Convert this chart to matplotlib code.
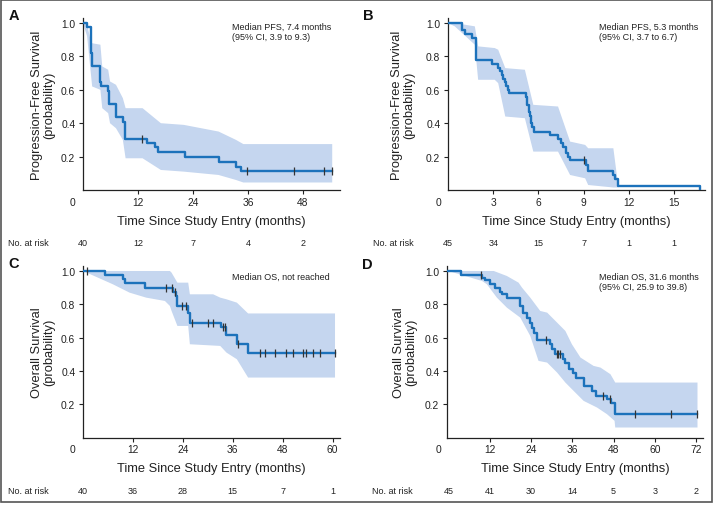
import numpy as np
import matplotlib
matplotlib.use("Agg")
import matplotlib.pyplot as plt
from matplotlib import transforms
from matplotlib.patches import Rectangle

plt.rcParams['font.family'] = ['Liberation Sans', 'DejaVu Sans']

# ---- panel A : PFS, cohort 1 ----
a_time = [0, 0.9, 1.8, 2.0, 3.8, 4.0, 5.5, 5.7, 7.2, 8.7, 9.1, 13.9, 15.7, 16.4, 22.3, 29.6, 33.4, 34.5, 54.4]
a_surv = [1.0, 0.975, 0.82, 0.745, 0.645, 0.62, 0.59, 0.515, 0.44, 0.41, 0.305, 0.28, 0.255, 0.228, 0.195, 0.168, 0.14, 0.113, 0.113]
a_cens = [12.9, 35.8, 46.0, 52.7, 54.3]
a_hi_t = [0, 0.9, 1.8, 3.8, 4.2, 5.5, 5.9, 7.2, 8.7, 9.3, 13.0, 17.0, 22.0, 29.6, 33.4, 35.0, 54.4]
a_hi = [1.0, 0.99, 0.88, 0.87, 0.74, 0.72, 0.65, 0.63, 0.55, 0.49, 0.49, 0.40, 0.39, 0.35, 0.30, 0.275, 0.275]
a_lo_t = [0, 0.9, 2.0, 3.8, 4.2, 5.5, 5.9, 7.2, 8.7, 9.3, 13.0, 17.0, 22.0, 29.6, 33.4, 35.0, 54.4]
a_lo = [1.0, 0.92, 0.62, 0.60, 0.49, 0.46, 0.40, 0.37, 0.30, 0.19, 0.19, 0.12, 0.11, 0.09, 0.06, 0.045, 0.045]
a_ticks = [0, 12, 24, 36, 48]
a_risk = [40, 12, 7, 4, 2]

# ---- panel B : PFS, cohort 2 ----
b_time = [0, 0.94, 1.16, 1.56, 1.85, 2.89, 3.33, 3.45, 3.55, 3.65, 3.75, 3.85, 3.95, 4.05,
          5.2, 5.27, 5.37, 5.43, 5.5, 5.59, 5.68, 6.76, 7.3, 7.5, 7.65, 7.8, 7.95, 8.1,
          9.13, 9.3, 10.97, 11.1, 11.3, 16.7]
b_surv = [1.0, 0.956, 0.933, 0.911, 0.778, 0.756, 0.733, 0.711, 0.689, 0.667, 0.644, 0.622, 0.60, 0.578,
          0.556, 0.511, 0.467, 0.444, 0.40, 0.378, 0.350, 0.328, 0.305, 0.283, 0.256, 0.222, 0.20, 0.178,
          0.150, 0.111, 0.089, 0.067, 0.022, 0.0]
b_cens = [9.0]
b_hi_t = [0, 0.45, 1.78, 2.0, 3.1, 3.33, 3.8, 5.1, 5.66, 7.3, 8.1, 9.1, 9.3, 10.97, 11.3]
b_hi = [1.0, 1.0, 0.98, 0.86, 0.85, 0.84, 0.73, 0.72, 0.51, 0.50, 0.29, 0.27, 0.25, 0.25, 0.02]
b_lo_t = [0, 0.45, 1.78, 2.0, 3.1, 3.33, 3.8, 5.1, 5.66, 7.3, 8.1, 9.1, 9.3, 10.97, 11.3]
b_lo = [1.0, 0.98, 0.87, 0.66, 0.66, 0.64, 0.44, 0.43, 0.23, 0.23, 0.09, 0.07, 0.03, 0.015, 0.015]
b_ticks = [0, 3, 6, 9, 12, 15]
b_risk = [45, 34, 15, 7, 1, 1]

# ---- panel C : OS, cohort 1 ----
c_time = [0, 5.4, 9.6, 10.2, 14.8, 21.7, 22.3, 22.7, 25.3, 25.7, 33.3, 34.5, 37.1, 39.7, 60.6]
c_surv = [1.0, 0.975, 0.95, 0.925, 0.90, 0.875, 0.85, 0.79, 0.75, 0.69, 0.664, 0.614, 0.564, 0.51, 0.51]
c_cens = [0.9, 19.9, 21.5, 22.2, 23.9, 24.7, 26.2, 30.1, 31.3, 33.7, 34.1, 37.3,
          42.5, 43.8, 46.1, 48.9, 50.5, 53.0, 53.7, 55.3, 56.9, 60.5]
c_hi_t = [0, 20.9, 21.3, 22.7, 25.3, 25.7, 31.3, 33.0, 34.5, 37.0, 39.7, 60.6]
c_hi = [1.0, 1.0, 0.99, 0.93, 0.93, 0.86, 0.86, 0.84, 0.83, 0.81, 0.745, 0.745]
c_lo_t = [0, 7.2, 11.2, 15.2, 19.7, 20.9, 21.3, 22.7, 25.3, 25.7, 33.0, 34.5, 37.0, 39.7, 60.6]
c_lo = [1.0, 0.92, 0.87, 0.84, 0.82, 0.79, 0.76, 0.67, 0.67, 0.56, 0.55, 0.51, 0.47, 0.36, 0.36]
c_ticks = [0, 12, 24, 36, 48, 60]
c_risk = [40, 36, 28, 15, 7, 1]

# ---- panel D : OS, cohort 2 ----
d_time = [0, 3.7, 9.8, 10.7, 12.2, 13.6, 15.1, 15.6, 17.0, 20.9, 21.7, 22.8, 23.6, 24.3, 24.8, 25.7,
          29.4, 30.1, 31.1, 33.3, 34.0, 35.0, 36.2, 37.2, 39.3, 41.7, 43.0, 46.1, 47.3, 48.5, 72.4]
d_surv = [1.0, 0.978, 0.96, 0.944, 0.92, 0.896, 0.876, 0.86, 0.84, 0.79, 0.75, 0.72, 0.69, 0.66, 0.63, 0.586,
          0.56, 0.53, 0.50, 0.47, 0.445, 0.41, 0.385, 0.355, 0.31, 0.28, 0.25, 0.23, 0.21, 0.144, 0.144]
d_cens = [9.6, 28.5, 31.5, 32.0, 32.5, 44.8, 46.9, 54.1, 64.8, 72.4]
d_hi_t = [0, 13.2, 17.0, 20.4, 21.4, 23.8, 26.7, 28.7, 31.6, 34.0, 35.9, 38.4, 42.2, 44.2, 47.1, 48.5, 72.4]
d_hi = [1.0, 1.0, 0.97, 0.93, 0.90, 0.84, 0.76, 0.75, 0.69, 0.64, 0.56, 0.48, 0.43, 0.42, 0.38, 0.33, 0.33]
d_lo_t = [0, 9.8, 11.2, 14.1, 17.0, 20.9, 23.8, 26.2, 28.7, 31.6, 34.0, 36.4, 39.3, 43.2, 46.1, 48.3, 48.5, 72.4]
d_lo = [1.0, 0.94, 0.92, 0.84, 0.78, 0.72, 0.61, 0.46, 0.45, 0.39, 0.33, 0.28, 0.22, 0.18, 0.14, 0.10, 0.06, 0.06]
d_ticks = [0, 12, 24, 36, 48, 60, 72]
d_risk = [45, 41, 30, 14, 5, 3, 2]

LINE = '#1c72bb'
BAND = '#c5d6ef'
INK = '#222222'
W, H = 714, 506
TICK_FS = 7.4
LAB_FS = 9.3
SMALL_FS = 6.5

fig = plt.figure(figsize=(W / 100, H / 100), dpi=100)


def box(l, t, r, b):
    return [l / W, 1 - b / H, (r - l) / W, (b - t) / H]


def panel(rect, xlim, time, surv, cens, hi_t, hi, lo_t, lo, ticks, risk, ylabel, ylab_dx, risk_y):
    ax = fig.add_axes(box(*rect))
    ax.fill(np.r_[hi_t, lo_t[::-1]], np.r_[hi, lo[::-1]], color=BAND, lw=0, zorder=1)
    ax.step(time, surv, where='post', color=LINE, lw=1.7, zorder=3)
    idx = np.searchsorted(time, cens, side='right') - 1
    ax.plot(cens, np.array(surv)[idx], ls='none', marker='|', ms=5.5, mew=0.9, color='#333333', zorder=4)

    ax.set_xlim(*xlim)
    ax.set_ylim(0, 1.03)
    for s in ['top', 'right']:
        ax.spines[s].set_visible(False)
    for s in ['left', 'bottom']:
        ax.spines[s].set_color(INK)
        ax.spines[s].set_linewidth(0.9)
    ax.set_yticks([0.2, 0.4, 0.6, 0.8, 1.0])
    ax.set_yticklabels(['0.2', '0.4', '0.6', '0.8', '1.0'])
    ax.set_xticks(ticks[1:])
    ax.set_xticklabels([str(t) for t in ticks[1:]])
    ax.tick_params(direction='out', length=3, width=0.8, color=INK, labelsize=TICK_FS, labelcolor=INK)
    ax.tick_params(axis='x', pad=2)
    ax.tick_params(axis='y', pad=2.5)
    # the zero sits off to the left of the origin
    ax.annotate('0', xy=(0, 0), xycoords='data', xytext=(-7.2, -5), textcoords='offset points',
                ha='center', va='top', fontsize=TICK_FS, color=INK, annotation_clip=False)

    ax.set_ylabel(ylabel, fontsize=LAB_FS, color=INK, linespacing=1.1)
    ax.yaxis.label.set_va('center')
    ax.yaxis.set_label_coords(ylab_dx / (rect[2] - rect[0]), 0.5)
    ax.set_xlabel('Time Since Study Entry (months)', fontsize=LAB_FS, color=INK)
    ax.xaxis.label.set_va('center')
    ax.xaxis.set_label_coords(0.5, -31 / (rect[3] - rect[1]))

    tr = transforms.blended_transform_factory(ax.transData, fig.transFigure)
    for t, n in zip(ticks, risk):
        ax.text(t, 1 - risk_y / H, str(n), transform=tr, ha='center', va='center', fontsize=SMALL_FS, color=INK)
    fig.text((rect[0] - 75) / W, 1 - risk_y / H, 'No. at risk', ha='left', va='center', fontsize=SMALL_FS, color=INK)
    return ax


pfs = 'Progression-Free Survival\n(probability)'
os_lab = 'Overall Survival\n(probability)'

panel((83, 19, 340, 191), (0, 56.1), a_time, a_surv, a_cens, a_hi_t, a_hi, a_lo_t, a_lo,
      a_ticks, a_risk, pfs, -40, 243)
panel((448, 19, 705, 191), (0, 17.05), b_time, b_surv, b_cens, b_hi_t, b_hi, b_lo_t, b_lo,
      b_ticks, b_risk, pfs, -45, 243)
panel((83, 267, 340, 438.5), (0, 61.8), c_time, c_surv, c_cens, c_hi_t, c_hi, c_lo_t, c_lo,
      c_ticks, c_risk, os_lab, -40, 492)
panel((447, 267, 703, 438.5), (-0.4, 74.0), d_time, d_surv, d_cens, d_hi_t, d_hi, d_lo_t, d_lo,
      d_ticks, d_risk, os_lab, -42, 492)

# panel letters
for x, y, s in [(9, 20, 'A'), (363, 20, 'B'), (8, 268, 'C'), (362, 269, 'D')]:
    fig.text(x / W, 1 - y / H, s, fontsize=10.5, fontweight='bold',
             ha='left', va='baseline', color='#111111')

# median annotations
notes = [(232, 32.5, 'Median PFS, 7.4 months\n(95% CI, 3.9 to 9.3)'),
         (599, 32.5, 'Median PFS, 5.3 months\n(95% CI, 3.7 to 6.7)'),
         (232, 277, 'Median OS, not reached'),
         (599, 282.5, 'Median OS, 31.6 months\n(95% CI, 25.9 to 39.8)')]
for x, y, s in notes:
    fig.text(x / W, 1 - y / H, s, fontsize=SMALL_FS, ha='left', va='center', color=INK, linespacing=1.25)

# grey frame round the figure
fig.patches.append(Rectangle((1 / W, 1 - 503 / H), 711 / W, 502 / H, transform=fig.transFigure,
                             fill=False, ec='#555555', lw=1.2))

fig.savefig('out.png', dpi=100)
